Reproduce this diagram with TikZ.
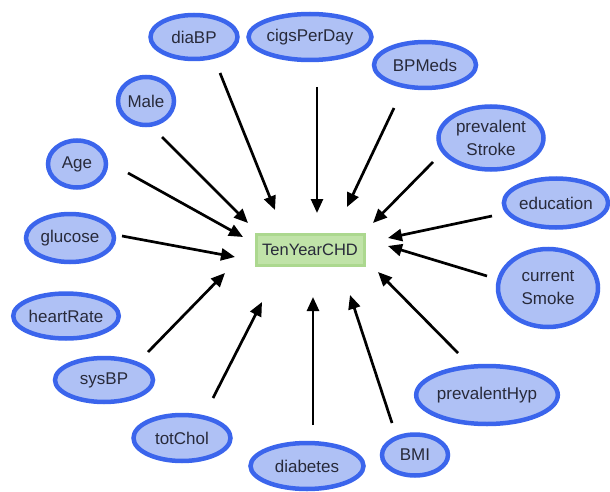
\documentclass[tikz,border=0pt]{standalone}
\usepackage{fontspec}
\setmainfont{Liberation Sans}
\usepackage{tikz}
\usetikzlibrary{arrows.meta,shapes.geometric}
\definecolor{featline}{RGB}{59,101,236}
\definecolor{featfill}{RGB}{175,193,245}
\definecolor{tgtline}{RGB}{172,216,143}
\definecolor{tgtfill}{RGB}{192,227,168}
\definecolor{txtdark}{RGB}{40,42,58}
\tikzset{
  feat/.style={ellipse,draw=featline,fill=featfill,line width=4.5pt,inner sep=0pt,
               align=center,text=txtdark,font=\fontsize{17}{23}\selectfont},
  target/.style={rectangle,draw=tgtline,fill=tgtfill,line width=3pt,inner sep=0pt,
                 minimum width=108pt,minimum height=31pt,text=txtdark,
                 font=\fontsize{16.5}{18}\selectfont},
  flow/.style={-{Triangle[length=14pt,width=12pt]},line width=2.7pt,black},
}

\begin{document}
\begin{tikzpicture}[x=1pt,y=-1pt]
  \useasboundingbox (0,0) rectangle (610,492);

  % outcome
  \node[target] (chd) at (310,250) {TenYearCHD};

  % features
  \node[feat,minimum width=87pt,minimum height=44pt]  (diaBP)  at (194,37)  {diaBP};
  \node[feat,minimum width=114pt,minimum height=46pt] (cigs)   at (310,37)  {cigsPerDay};
  \node[feat,minimum width=102pt,minimum height=46pt] (bpmeds) at (425,65)  {BPMeds};
  \node[feat,minimum width=105pt,minimum height=63pt] (stroke) at (491,138) {prevalent\\Stroke};
  \node[feat,minimum width=104pt,minimum height=49pt] (edu)    at (556,203) {education};
  \node[feat,minimum width=100pt,minimum height=78pt] (smoke)  at (548,288) {current\\Smoke};
  \node[feat,minimum width=127pt,minimum height=58pt] (hyp)    at (487,395) {prevalentHyp};
  \node[feat,minimum width=66pt,minimum height=41pt]  (bmi)    at (415,455) {BMI};
  \node[feat,minimum width=113pt,minimum height=46pt] (diab)   at (307,466) {diabetes};
  \node[feat,minimum width=97pt,minimum height=46pt]  (chol)   at (182,438) {totChol};
  \node[feat,minimum width=98pt,minimum height=44pt]  (sysBP)  at (104,380) {sysBP};
  \node[feat,minimum width=104pt,minimum height=45pt] (heart)  at (66,316)  {heartRate};
  \node[feat,minimum width=88pt,minimum height=48pt]  (gluc)   at (70,238)  {glucose};
  \node[feat,minimum width=58pt,minimum height=47pt]  (age)    at (77,164)  {Age};
  \node[feat,minimum width=56pt,minimum height=48pt]  (male)   at (146,101) {Male};

  % arrow ends (the arrows touch neither ellipse nor box)
  \coordinate (diaBP-o)  at (220,73);  \coordinate (diaBP-i)  at (275,210);
  \coordinate (cigs-o)   at (317,87);  \coordinate (cigs-i)   at (317,213);
  \coordinate (bpmeds-o) at (394,108); \coordinate (bpmeds-i) at (347,207);
  \coordinate (stroke-o) at (433,162); \coordinate (stroke-i) at (373,223);
  \coordinate (edu-o)    at (492,216); \coordinate (edu-i)    at (388,238);
  \coordinate (smoke-o)  at (487,276); \coordinate (smoke-i)  at (388,246);
  \coordinate (hyp-o)    at (458,353); \coordinate (hyp-i)    at (378,272);
  \coordinate (bmi-o)    at (392,423); \coordinate (bmi-i)    at (350,295);
  \coordinate (diab-o)   at (313,425); \coordinate (diab-i)   at (313,297);
  \coordinate (chol-o)   at (213,398); \coordinate (chol-i)   at (262,302);
  \coordinate (sysBP-o)  at (148,352); \coordinate (sysBP-i)  at (225,273);
  \coordinate (gluc-o)   at (122,236); \coordinate (gluc-i)   at (235,257);
  \coordinate (age-o)    at (128,173); \coordinate (age-i)    at (243,237);
  \coordinate (male-o)   at (162,137); \coordinate (male-i)   at (248,223);

  \draw[flow] (diaBP-o)  -- (diaBP-i);
  \draw[flow] (cigs-o)   -- (cigs-i);
  \draw[flow] (bpmeds-o) -- (bpmeds-i);
  \draw[flow] (stroke-o) -- (stroke-i);
  \draw[flow] (edu-o)    -- (edu-i);
  \draw[flow] (smoke-o)  -- (smoke-i);
  \draw[flow] (hyp-o)    -- (hyp-i);
  \draw[flow] (bmi-o)    -- (bmi-i);
  \draw[flow] (diab-o)   -- (diab-i);
  \draw[flow] (chol-o)   -- (chol-i);
  \draw[flow] (sysBP-o)  -- (sysBP-i);
  \draw[flow] (gluc-o)   -- (gluc-i);
  \draw[flow] (age-o)    -- (age-i);
  \draw[flow] (male-o)   -- (male-i);
\end{tikzpicture}
\end{document}
